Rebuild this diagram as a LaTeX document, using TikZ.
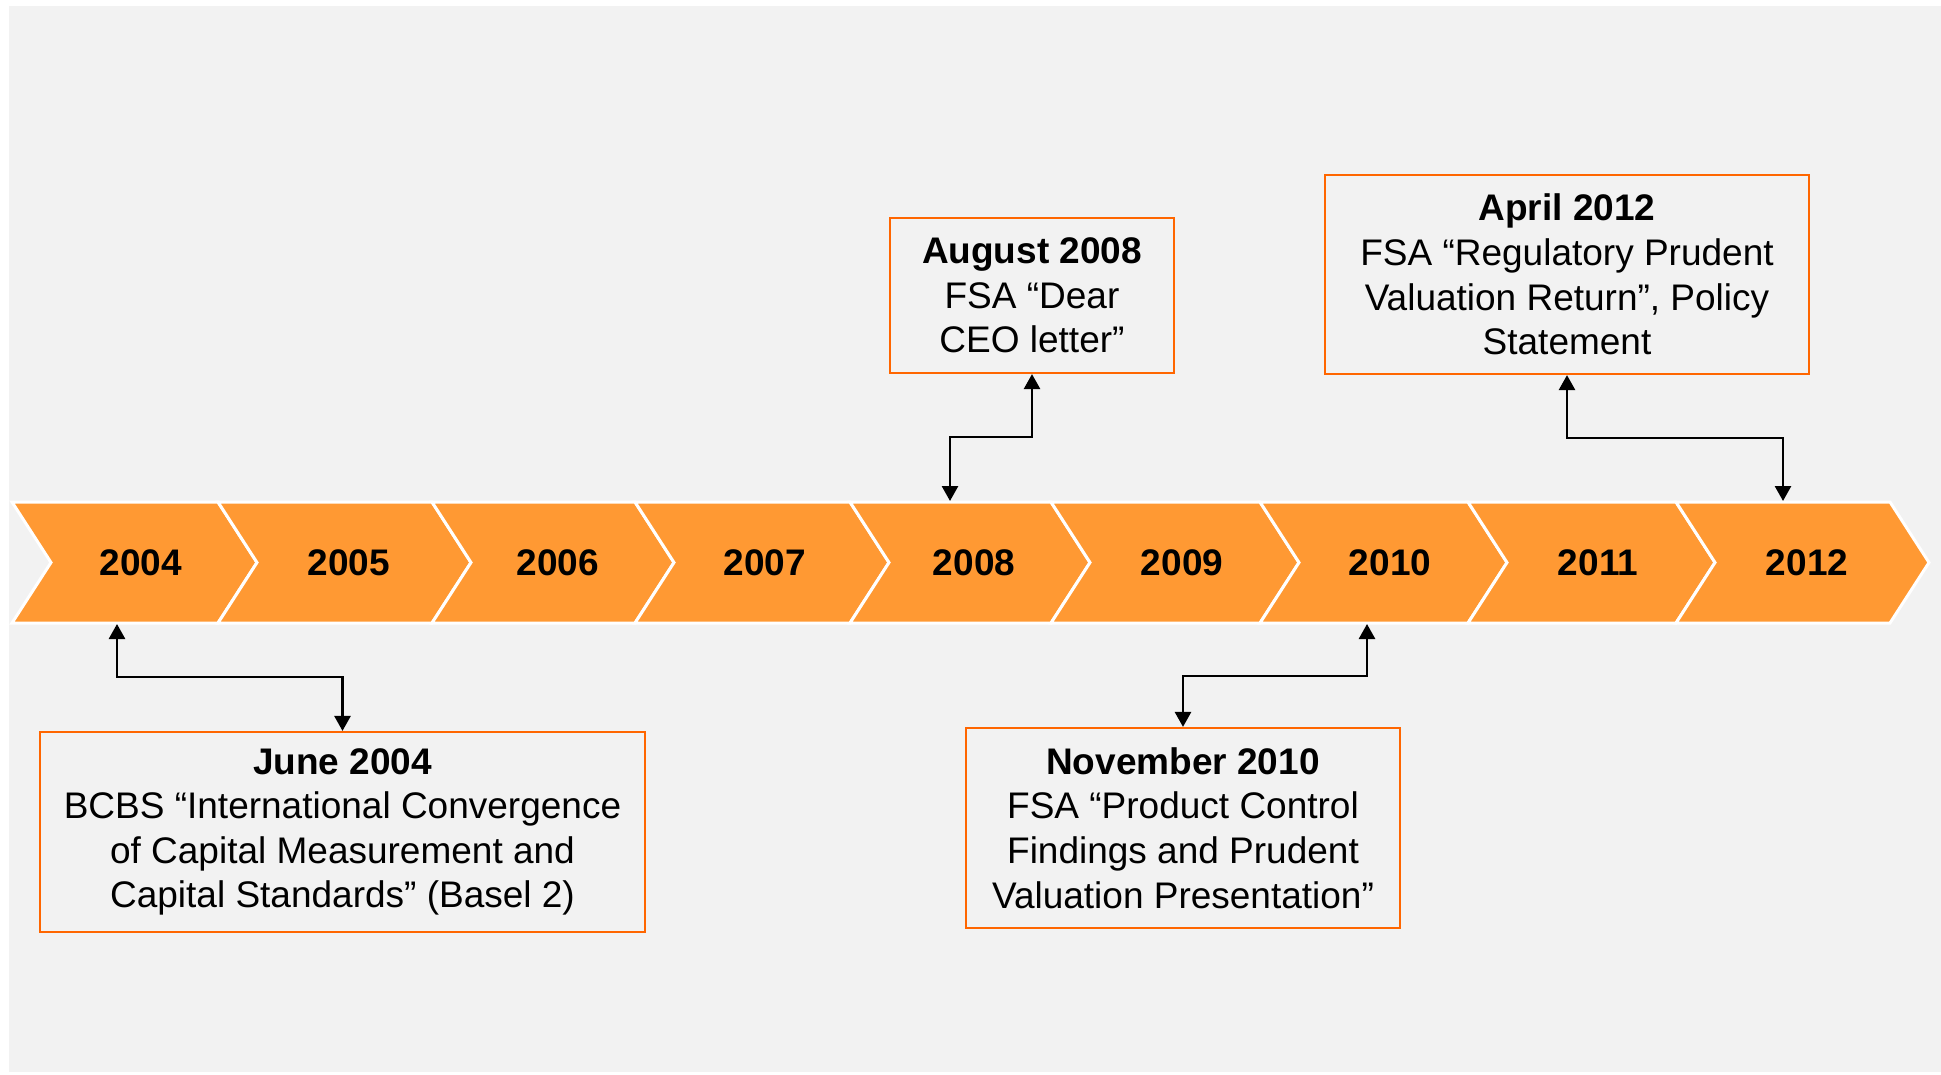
\documentclass[tikz,border=0pt]{standalone}
\usepackage{fontspec}
\setmainfont{Liberation Sans}
\usetikzlibrary{arrows.meta,calc}
\definecolor{bggrey}{RGB}{242,242,242}
\definecolor{chevorange}{RGB}{255,153,51}
\definecolor{boxorange}{RGB}{255,102,0}
\tikzset{
  chev/.style={fill=chevorange, draw=white, line width=3pt, line join=miter},
  year/.style={font=\fontsize{37}{44}\selectfont\bfseries, inner sep=0pt},
  evbox/.style={draw=boxorange, line width=2.2pt, fill=bggrey, align=center, inner sep=0pt,
    font=\fontsize{37}{44.6}\selectfont},
  conn/.style={line width=2.7pt, {Triangle[width=16pt,length=15pt]}-{Triangle[width=16pt,length=15pt]}}
}
\begin{document}
\begin{tikzpicture}[x=1pt,y=-1pt]
\useasboundingbox (0,0) rectangle (1941,1074);
\fill[white] (0,0) rectangle (1941,1074);
\fill[bggrey] (9,6) rectangle (1941,1072);
% chevrons
\foreach \L/\R/\yr/\tx in {12/218/2004/141, 218/432/2005/349, 432/635/2006/558, 635/850/2007/765, 850/1051/2008/974, 1051/1260/2009/1182, 1260/1468/2010/1390, 1468/1676/2011/1598, 1676/1890/2012/1807}
{
  \draw[chev] (\L,502) -- (\R,502) -- (\R+39,562.5) -- (\R,623) -- (\L,623) -- (\L+39,562.5) -- cycle;
  \node[year] (y\yr) at (\tx,563) {\yr};
}
% anchor points on the band
\coordinate (b2004) at (117,624);
\coordinate (t2008) at (950,501);
\coordinate (b2010) at (1367,624);
\coordinate (t2012) at (1783,501);
% event boxes
\node[evbox, minimum width=605pt, minimum height=200pt] (box2004) at (342.5,832)
  {\textbf{June 2004}\\BCBS “International Convergence\\of Capital Measurement and\\Capital Standards” (Basel 2)};
\node[evbox, minimum width=284pt, minimum height=155pt] (box2008) at (1032,295.5)
  {\textbf{August 2008}\\FSA “Dear\\CEO letter”};
\node[evbox, minimum width=434pt, minimum height=200pt] (box2010) at (1183,828)
  {\textbf{November 2010}\\FSA “Product Control\\Findings and Prudent\\Valuation Presentation”};
\node[evbox, minimum width=484pt, minimum height=199pt] (box2012) at (1567,274.5)
  {\textbf{April 2012}\\FSA “Regulatory Prudent\\Valuation Return”, Policy\\Statement};
% connectors
\draw[conn] (b2004) -- ++(0,53) -| (box2004.north);
\draw[conn] (box2008.south) -- ++(0,63) -| (t2008);
\draw[conn] (b2010) -- ++(0,52) -| (box2010.north);
\draw[conn] (box2012.south) -- ++(0,63) -| (t2012);
\end{tikzpicture}
\end{document}
